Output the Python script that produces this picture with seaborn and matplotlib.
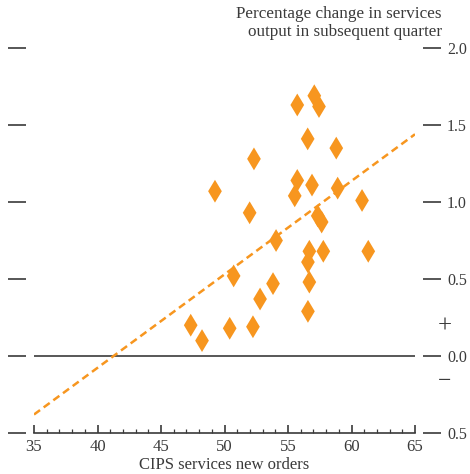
import matplotlib
matplotlib.use("Agg")
import matplotlib.pyplot as plt
from matplotlib.ticker import MultipleLocator
import seaborn as sns

# CIPS services new orders index vs. change in services output next quarter (%)
new_orders = [55.73, 57.07, 57.44, 56.55, 58.80, 52.32, 49.25, 55.73, 55.53, 56.89,
              58.91, 60.83, 51.98, 57.34, 57.65, 54.06, 56.68, 56.57, 57.78, 61.32,
              50.72, 53.82, 56.68, 52.80, 56.57, 47.34, 50.41, 52.24, 48.23]
output_change = [1.63, 1.69, 1.62, 1.41, 1.35, 1.28, 1.07, 1.14, 1.04, 1.11,
                 1.09, 1.01, 0.93, 0.91, 0.87, 0.75, 0.68, 0.61, 0.68, 0.68,
                 0.52, 0.47, 0.48, 0.37, 0.29, 0.20, 0.18, 0.19, 0.10]

# fitted relationship across the full index range
fit_x = [35, 65]
fit_y = [-0.38, 1.44]

x_ticks = [35, 40, 45, 50, 55, 60, 65]
y_ticks = [-0.5, 0.0, 0.5, 1.0, 1.5, 2.0]
y_tick_labels = ["0.5", "0.0", "0.5", "1.0", "1.5", "2.0"]

ORANGE = "#F7961F"
INK = "#3a3a3a"

sns.set_style("white")
plt.rcParams["font.family"] = ["Liberation Serif", "DejaVu Serif"]
plt.rcParams["text.color"] = INK

fig = plt.figure(figsize=(4.7, 4.74), dpi=100)
ax = fig.add_axes([34 / 470, 1 - 433 / 474, 381 / 470, 385 / 474])

ax.axhline(0, color="#4a4a4a", lw=1.3, zorder=1)

sns.lineplot(x=fit_x, y=fit_y, ax=ax, color=ORANGE, lw=1.8,
             linestyle=(0, (3.0, 1.8)), zorder=2)
sns.scatterplot(x=new_orders, y=output_change, ax=ax, marker="d", s=135,
                color=ORANGE, edgecolor="none", linewidth=0, zorder=3)

ax.set_xlim(35, 65)
ax.set_ylim(-0.5, 2.0)

# axis frame: only the bottom line; y ticks sit detached from the plot area
ax.spines["top"].set_visible(False)
for side in ("left", "right"):
    ax.spines[side].set_visible(False)
    ax.spines[side].set_position(("outward", 5.8))
ax.spines["bottom"].set_color(INK)
ax.spines["bottom"].set_linewidth(1.2)

ax.set_xticks(x_ticks)
ax.xaxis.set_minor_locator(MultipleLocator(1))
ax.tick_params(axis="x", which="both", bottom=True, top=False)
ax.tick_params(axis="x", which="major", direction="in", length=5.5, width=1.2,
               color=INK, labelsize=12, labelcolor=INK, pad=4.5)
ax.tick_params(axis="x", which="minor", direction="in", length=3, width=0.9,
               color=INK)

ax.set_yticks(y_ticks, y_tick_labels)
ax.tick_params(axis="y", left=True, right=True, labelleft=False, labelright=True,
               direction="out", length=13.3, width=1.2, color=INK,
               labelsize=11.5, labelcolor=INK, pad=4)

ax.set_xlabel("CIPS services new orders", fontsize=12, color=INK, labelpad=1.5)
ax.set_ylabel("")

fig.text(442 / 470, 1 - 6.5 / 474,
         "Percentage change in services\noutput in subsequent quarter",
         ha="right", va="top", ma="right", fontsize=12.3, linespacing=1.15,
         color=INK)
fig.text(445 / 470, 1 - 326.5 / 474, "+", ha="center", va="center", fontsize=18,
         color=INK)
fig.text(445 / 470, 1 - 382 / 474, "\u2212", ha="center", va="center", fontsize=17,
         color=INK)

fig.savefig("out.png", dpi=100)
